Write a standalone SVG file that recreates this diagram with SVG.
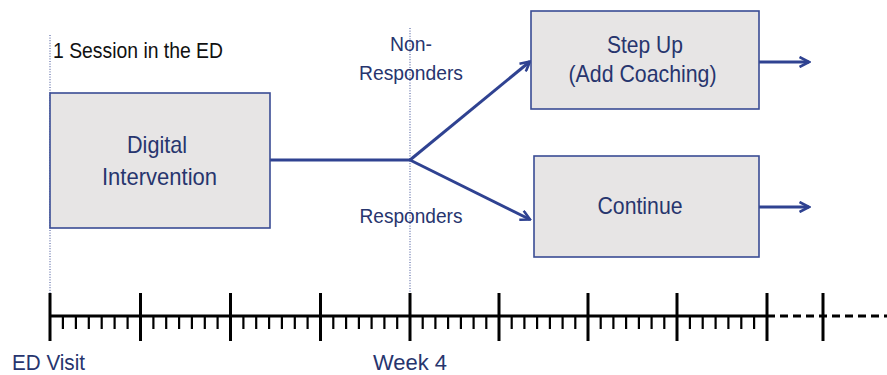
<svg xmlns="http://www.w3.org/2000/svg" width="887" height="375" viewBox="0 0 887 375">
  <defs>
    <style>
      .txt { font-family: "Liberation Sans", Arial, sans-serif; fill: #27356e; }
      .lbl { font-size: 21px; }
      .box-txt { font-size: 24px; text-anchor: middle; }
      .box { fill: #e7e5e5; stroke: #3a4c94; stroke-width: 1.6; }
      .conn { fill: none; stroke: #2f4291; stroke-width: 3; }
      .guide { fill: none; stroke: #3a4c94; stroke-width: 1; stroke-dasharray: 1 1.6; }
      .axis { fill: none; stroke: #000; stroke-width: 3; }
      .minor { fill: none; stroke: #000; stroke-width: 2.2; }
    </style>
    <marker id="chev" viewBox="0 0 12 12" refX="10.5" refY="6" markerWidth="12" markerHeight="12" markerUnits="userSpaceOnUse" orient="auto">
      <path d="M1,1 L10.5,6 L1,11" fill="none" stroke="#2f4291" stroke-width="2.6" stroke-linejoin="miter"/>
    </marker>
  </defs>

  <rect width="887" height="375" fill="#ffffff"/>

  <!-- dotted guides at the ED visit and week 4 -->
  <g id="guides">
    <line class="guide" x1="50" y1="35" x2="50" y2="300"/>
    <line class="guide" x1="410" y1="28" x2="410" y2="300"/>
  </g>

  <!-- connectors -->
  <g id="connectors">
    <path class="conn" d="M270,160 H410"/>
    <path class="conn" d="M410,160 L530,61.5" marker-end="url(#chev)"/>
    <path class="conn" d="M410,160 L530,219.5" marker-end="url(#chev)"/>
    <path class="conn" d="M759,62 H809" marker-end="url(#chev)"/>
    <path class="conn" d="M759,207 H809" marker-end="url(#chev)"/>
  </g>

  <g id="node-digital">
    <rect class="box" x="50" y="93" width="220" height="135"/>
    <text class="txt box-txt" x="157" y="153" textLength="60" lengthAdjust="spacingAndGlyphs">Digital</text>
    <text class="txt box-txt" x="159.5" y="185" textLength="115" lengthAdjust="spacingAndGlyphs">Intervention</text>
  </g>

  <g id="node-stepup">
    <rect class="box" x="531" y="11" width="228" height="98"/>
    <text class="txt box-txt" x="645" y="53" textLength="76" lengthAdjust="spacingAndGlyphs">Step Up</text>
    <text class="txt box-txt" x="642.5" y="82" textLength="148" lengthAdjust="spacingAndGlyphs">(Add Coaching)</text>
  </g>

  <g id="node-continue">
    <rect class="box" x="534" y="156" width="225" height="101"/>
    <text class="txt box-txt" x="640" y="213.5" textLength="85" lengthAdjust="spacingAndGlyphs">Continue</text>
  </g>

  <!-- labels -->
  <g id="labels">
    <text class="txt lbl" x="53" y="57.5" textLength="170" lengthAdjust="spacingAndGlyphs" style="fill:#111111;font-size:22px">1 Session in the ED</text>
    <text class="txt lbl" x="411" y="51" text-anchor="middle" textLength="42" lengthAdjust="spacingAndGlyphs">Non-</text>
    <text class="txt lbl" x="411" y="80" text-anchor="middle" textLength="104" lengthAdjust="spacingAndGlyphs">Responders</text>
    <text class="txt lbl" x="411" y="223" text-anchor="middle" textLength="103" lengthAdjust="spacingAndGlyphs">Responders</text>
    <text class="txt" x="12" y="370" font-size="22.5" textLength="73" lengthAdjust="spacingAndGlyphs">ED Visit</text>
    <text class="txt" x="373" y="370" font-size="22.5" textLength="74" lengthAdjust="spacingAndGlyphs">Week 4</text>
  </g>

  <!-- timeline: weeks as major ticks, days as minor ticks -->
  <g id="timeline">
    <path class="axis" d="M50,316 H767"/>
    <path class="axis" d="M767,316 H887" stroke-dasharray="8 5"/>
    <path class="axis" d="M50,293 V341 M140.5,293 V341 M230.5,293 V341 M320.5,293 V341 M410,293 V341 M499,293 V341 M588,293 V341 M677,293 V341 M767,293 V341 M823,293 V341"/>
    <path class="minor" d="M62.9,316 v13 M75.9,316 v13 M88.8,316 v13 M101.7,316 v13 M114.6,316 v13 M127.6,316 v13
      M153.4,316 v13 M166.2,316 v13 M179.1,316 v13 M191.9,316 v13 M204.8,316 v13 M217.6,316 v13
      M243.4,316 v13 M256.2,316 v13 M269.1,316 v13 M281.9,316 v13 M294.8,316 v13 M307.6,316 v13
      M333.3,316 v13 M346.1,316 v13 M358.9,316 v13 M371.6,316 v13 M384.4,316 v13 M397.2,316 v13
      M422.7,316 v13 M435.4,316 v13 M448.1,316 v13 M460.9,316 v13 M473.6,316 v13 M486.3,316 v13
      M511.7,316 v13 M524.4,316 v13 M537.1,316 v13 M549.9,316 v13 M562.6,316 v13 M575.3,316 v13
      M600.7,316 v13 M613.4,316 v13 M626.1,316 v13 M638.9,316 v13 M651.6,316 v13 M664.3,316 v13
      M689.9,316 v13 M702.7,316 v13 M715.6,316 v13 M728.4,316 v13 M741.3,316 v13 M754.1,316 v13"/>
  </g>
</svg>
